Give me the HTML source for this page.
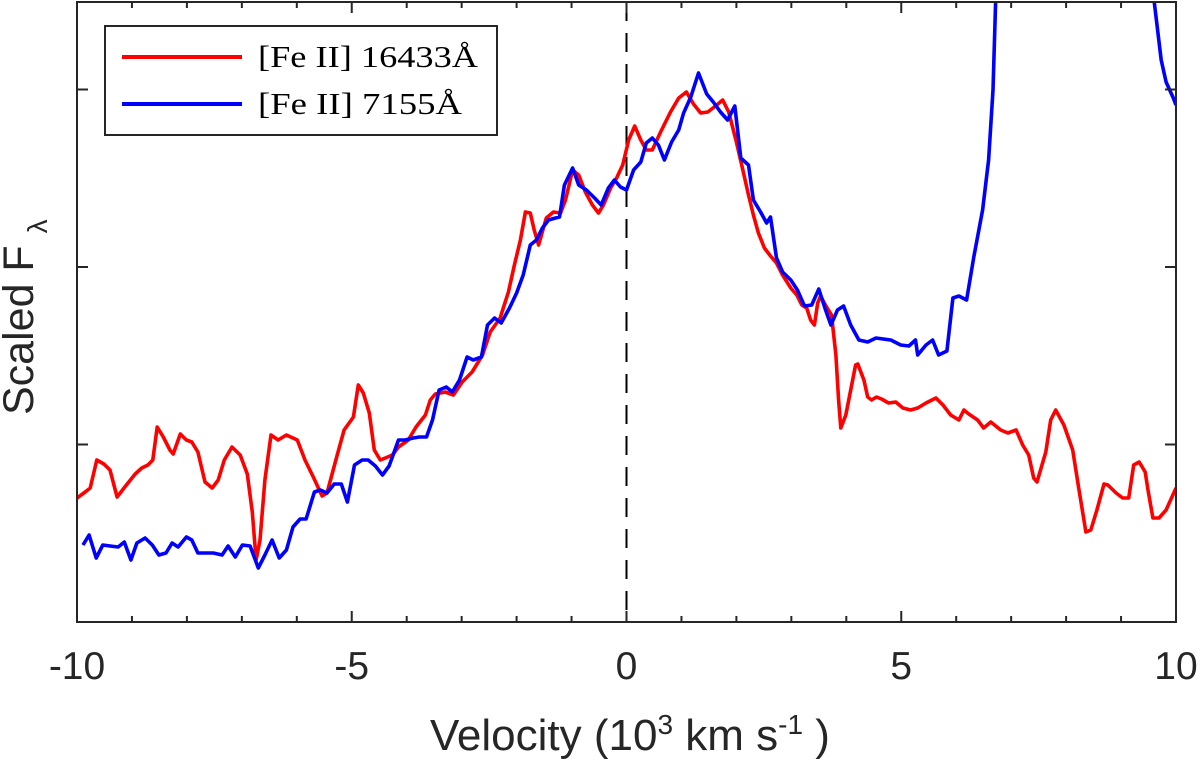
<!DOCTYPE html>
<html><head><meta charset="utf-8"><style>
body{margin:0;background:#fff;}
svg{display:block;font-family:"Liberation Sans",sans-serif;}
</style></head><body>
<svg id="chart" width="1200" height="765" viewBox="0 0 1200 765" xmlns="http://www.w3.org/2000/svg">
<defs><clipPath id="clip"><rect x="77" y="2" width="1099" height="620"/></clipPath></defs>
<g id="plot" clip-path="url(#clip)"></g>
<g id="axes"></g>
<g>
<rect x="105" y="26" width="392" height="109" fill="#fff" stroke="#262626" stroke-width="2"/>
<line x1="122" y1="57" x2="242" y2="57" stroke="#ff0000" stroke-width="4"/>
<text x="258" y="67" font-family="'Liberation Serif',serif" font-size="31" textLength="220" lengthAdjust="spacingAndGlyphs" fill="#000">[Fe II] 16433Å</text>
<line x1="122" y1="104" x2="242" y2="104" stroke="#0000ff" stroke-width="4"/>
<text x="258" y="114" font-family="'Liberation Serif',serif" font-size="31" textLength="204" lengthAdjust="spacingAndGlyphs" fill="#000">[Fe II] 7155Å</text>
</g>
<text x="630" y="750" text-anchor="middle" font-size="44" fill="#262626">Velocity (10<tspan dy="-16" font-size="28">3</tspan><tspan dy="16"> km s</tspan><tspan dy="-16" font-size="28">-1</tspan><tspan dy="16"> )</tspan></text>
<text transform="translate(33,415) rotate(-90)" font-size="43" fill="#262626">Scaled F <tspan dy="14" font-size="28">λ</tspan></text>
</svg>
<script>
const redV=[-10.00,-9.85,-9.76,-9.64,-9.51,-9.40,-9.27,-9.13,-8.94,-8.82,-8.71,-8.62,-8.54,-8.43,-8.31,-8.25,-8.12,-8.01,-7.91,-7.80,-7.67,-7.54,-7.43,-7.32,-7.18,-7.03,-6.90,-6.81,-6.74,-6.67,-6.58,-6.47,-6.34,-6.19,-5.99,-5.85,-5.70,-5.54,-5.45,-5.28,-5.14,-4.97,-4.88,-4.79,-4.68,-4.59,-4.48,-4.39,-4.26,-4.15,-3.97,-3.83,-3.66,-3.57,-3.48,-3.30,-3.15,-2.99,-2.81,-2.62,-2.48,-2.39,-2.30,-2.15,-2.04,-1.93,-1.84,-1.75,-1.68,-1.60,-1.46,-1.33,-1.20,-1.11,-0.98,-0.87,-0.75,-0.62,-0.51,-0.42,-0.29,-0.18,-0.07,0.04,0.15,0.26,0.36,0.47,0.62,0.80,0.95,1.09,1.22,1.35,1.48,1.62,1.75,1.86,1.99,2.11,2.22,2.31,2.40,2.51,2.62,2.73,2.84,2.99,3.10,3.19,3.28,3.35,3.42,3.48,3.53,3.62,3.73,3.81,3.86,3.90,3.99,4.08,4.17,4.21,4.32,4.39,4.46,4.55,4.64,4.77,4.90,5.03,5.17,5.30,5.45,5.63,5.76,5.90,6.05,6.14,6.23,6.39,6.50,6.63,6.81,6.94,7.09,7.21,7.32,7.41,7.47,7.63,7.72,7.81,7.96,8.12,8.23,8.36,8.45,8.56,8.69,8.76,8.91,9.03,9.14,9.23,9.33,9.44,9.49,9.58,9.69,9.82,10.00];
const redFlux=[124,130,134,162,158,152,125,135,148,154,157,162,195,185,172,168,188,182,180,170,140,134,142,162,175,167,148,110,62,82,142,187,182,187,182,162,145,126,129,164,192,205,237,229,209,172,162,164,167,175,182,195,207,222,228,230,227,240,250,267,290,297,304,330,357,382,410,409,392,377,404,410,409,422,452,447,430,417,409,417,434,444,457,482,496,482,472,472,490,510,524,530,518,509,510,516,522,510,482,454,427,407,389,374,366,359,347,334,327,317,314,302,297,319,326,317,307,267,222,194,207,232,257,258,242,225,222,225,223,219,220,214,212,214,219,224,217,207,202,212,208,202,194,200,192,189,192,177,167,144,140,170,202,212,197,172,134,90,92,112,138,137,129,124,124,157,160,150,132,104,104,112,134];
const blueV=[-9.89,-9.78,-9.65,-9.53,-9.40,-9.25,-9.14,-9.02,-8.91,-8.76,-8.63,-8.51,-8.38,-8.27,-8.16,-8.01,-7.91,-7.80,-7.67,-7.52,-7.36,-7.25,-7.12,-6.99,-6.85,-6.70,-6.58,-6.45,-6.32,-6.19,-6.07,-5.94,-5.83,-5.68,-5.57,-5.45,-5.32,-5.19,-5.08,-4.95,-4.81,-4.70,-4.57,-4.44,-4.32,-4.15,-4.03,-3.88,-3.77,-3.64,-3.53,-3.41,-3.28,-3.17,-3.04,-2.90,-2.79,-2.64,-2.53,-2.40,-2.28,-2.13,-2.00,-1.88,-1.75,-1.64,-1.53,-1.42,-1.29,-1.22,-1.13,-0.98,-0.87,-0.73,-0.58,-0.46,-0.33,-0.22,-0.11,0.00,0.13,0.26,0.36,0.47,0.58,0.69,0.82,0.95,1.04,1.17,1.31,1.46,1.58,1.71,1.84,1.97,2.08,2.22,2.31,2.44,2.55,2.62,2.73,2.84,2.99,3.11,3.24,3.37,3.50,3.61,3.72,3.84,3.95,4.08,4.23,4.39,4.54,4.81,4.99,5.14,5.26,5.30,5.45,5.57,5.68,5.83,5.94,6.05,6.19,6.32,6.48,6.59,6.67,6.76,7.00,9.36,9.60,9.73,9.82,9.95,10.00];
const blueFlux=[77,87,64,77,76,75,80,62,79,84,77,67,69,79,75,85,82,69,69,69,67,76,65,77,76,54,67,82,64,72,95,103,103,130,132,129,138,138,120,157,162,162,156,147,156,182,182,184,185,185,202,232,235,230,242,265,262,265,297,304,299,314,329,347,377,382,394,402,404,405,437,454,437,432,424,417,434,442,435,432,452,460,479,484,477,462,480,492,509,525,549,528,520,510,502,516,464,457,422,410,399,405,364,350,342,332,316,317,333,314,297,312,316,297,282,280,284,282,277,276,282,267,277,282,267,271,324,326,322,365,412,462,532,700,950,950,622,562,540,524,517];
const xTicks=[-10,-5,0,5,10];
const xTickLabels=["-10","-5","0","5","10"];
const yTicks=[177.5,355,532.5];
const NS="http://www.w3.org/2000/svg";
const L=77,R=1176,T=2,B=622;
const xs=v=>L+(v+10)/20*(R-L);
const ys=f=>B-f/620*(B-T);
function mk(tag,attrs,parent){const e=document.createElementNS(NS,tag);for(const k in attrs)e.setAttribute(k,attrs[k]);parent.appendChild(e);return e;}
const plot=document.getElementById('plot'),axes=document.getElementById('axes');
const zl=mk('line',{x1:xs(0),x2:xs(0),y1:T,y2:B,stroke:'#000','stroke-width':2,'stroke-dasharray':'19,12'},plot);


function series(V,F,color,name){
  const d=V.map((v,i)=>(i?'L':'M')+xs(v).toFixed(1)+','+ys(F[i]).toFixed(1)).join('');
  const p=mk('path',{d:d,fill:'none',stroke:color,'stroke-width':3.6,'stroke-linejoin':'round'},plot);
  
  
}
series(redV,redFlux,'#ff0000','series-fe-ii-16433');
series(blueV,blueFlux,'#0000ff','series-fe-ii-7155');
const box=mk('rect',{x:L,y:T,width:R-L,height:B-T,fill:'none',stroke:'#262626','stroke-width':2},axes);


for(let v=-10;v<=10;v++){
  const len=(v%5===0)?11:6;
  const t1=mk('line',{x1:xs(v),x2:xs(v),y1:B,y2:B-len,stroke:'#262626','stroke-width':2},axes);
  
  
  const t2=mk('line',{x1:xs(v),x2:xs(v),y1:T,y2:T+len,stroke:'#262626','stroke-width':2},axes);
  
  
}
xTicks.forEach((v,i)=>{
  const t=mk('text',{x:xs(v),y:679,'text-anchor':'middle','font-size':39,fill:'#262626'},axes);
  t.textContent=xTickLabels[i];
  
  
});
yTicks.forEach(f=>{
  const a=mk('line',{x1:L,x2:L+11,y1:ys(f),y2:ys(f),stroke:'#262626','stroke-width':2},axes);
  
  
  const b=mk('line',{x1:R,x2:R-11,y1:ys(f),y2:ys(f),stroke:'#262626','stroke-width':2},axes);
  
  
});
</script>
</body></html>
